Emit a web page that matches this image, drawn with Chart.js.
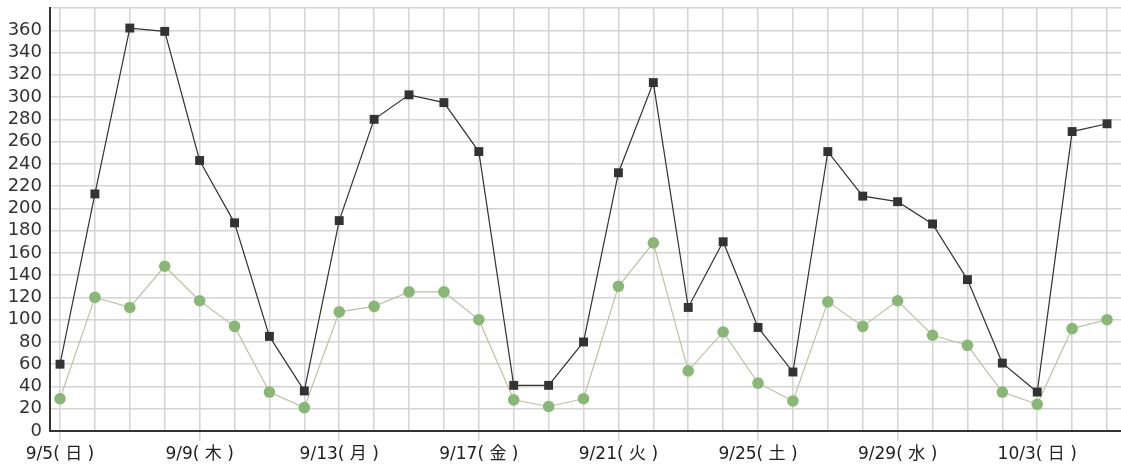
<!DOCTYPE html>
<html>
<head>
<meta charset="utf-8">
<script src="https://cdn.jsdelivr.net/npm/chart.js@4/dist/chart.umd.min.js"></script>
<style>
html,body{margin:0;padding:0;background:#fff;}
#wrap{width:1121px;height:465px;position:relative;}
</style>
</head>
<body>
<div id="wrap"><canvas id="c"></canvas></div>
<script>
const categories = ['9/5( 日 )','9/6( 月 )','9/7( 火 )','9/8( 水 )','9/9( 木 )','9/10( 金 )','9/11( 土 )','9/12( 日 )','9/13( 月 )','9/14( 火 )','9/15( 水 )','9/16( 木 )','9/17( 金 )','9/18( 土 )','9/19( 日 )','9/20( 月 )','9/21( 火 )','9/22( 水 )','9/23( 木 )','9/24( 金 )','9/25( 土 )','9/26( 日 )','9/27( 月 )','9/28( 火 )','9/29( 水 )','9/30( 木 )','10/1( 金 )','10/2( 土 )','10/3( 日 )','10/4( 月 )','10/5( 火 )'];
const seriesBlack = [60,213,362,359,243,187,85,36,189,280,302,295,251,41,41,80,232,313,111,170,93,53,251,211,206,186,136,61,35,269,276];
const seriesGreen = [29,120,111,148,117,94,35,21,107,112,125,125,100,28,22,29,130,169,54,89,43,27,116,94,117,86,77,35,24,92,100];
const labelEvery = 4;
const yMax = 380, yStep = 20;

const toXY = arr => arr.map((v,i)=>({x:i,y:v}));
const FONT = '"DejaVu Sans","Noto Sans CJK JP",sans-serif';

new Chart(document.getElementById('c'), {
  type: 'line',
  data: {
    datasets: [
      {
        data: toXY(seriesBlack),
        borderColor: '#333333',
        borderWidth: 1.2,
        pointStyle: 'rect',
        pointRadius: 6.3,
        pointBackgroundColor: '#333333',
        pointBorderWidth: 0,
        tension: 0,
        order: 0
      },
      {
        data: toXY(seriesGreen),
        borderColor: 'rgb(192,192,168)',
        borderWidth: 1.2,
        pointStyle: 'circle',
        pointRadius: 5.8,
        pointBackgroundColor: 'rgb(137,184,118)',
        pointBorderWidth: 0,
        tension: 0,
        order: 1
      }
    ]
  },
  options: {
    responsive: true,
    maintainAspectRatio: false,
    animation: false,
    layout: { autoPadding: false, padding: { top: 8, right: 0, bottom: 0, left: 0 } },
    plugins: { legend: { display: false }, tooltip: { enabled: false } },
    scales: {
      x: {
        type: 'linear',
        min: -0.287,
        max: 30.4,
        afterBuildTicks: s => { s.ticks = categories.map((_,i)=>({value:i})); },
        afterFit: s => { s.height = 34; s.paddingLeft = 0; s.paddingRight = 0; },
        ticks: {
          autoSkip: false,
          maxRotation: 0,
          padding: 3,
          color: '#222',
          font: { family: FONT, size: 17 },
          callback: v => (v % labelEvery === 0 ? categories[v] : '')
        },
        grid: {
          color: '#d4d4d4',
          lineWidth: 1.5,
          tickLength: 10,
          tickColor: ctx => (ctx.tick && ctx.tick.value % labelEvery === 0 ? '#d4d4d4' : 'rgba(0,0,0,0)')
        },
        border: { color: '#333', width: 2 }
      },
      y: {
        min: 0,
        max: yMax,
        afterFit: s => { s.width = 50; s.paddingTop = 0; s.paddingBottom = 0; },
        ticks: {
          stepSize: yStep,
          autoSkip: false,
          padding: 8,
          color: '#333',
          font: { family: FONT, size: 18 },
          callback: v => (v === yMax ? '' : v)
        },
        grid: { color: '#d4d4d4', lineWidth: 1.5, drawTicks: false },
        border: { color: '#333', width: 2 }
      }
    }
  }
});
</script>
</body>
</html>
